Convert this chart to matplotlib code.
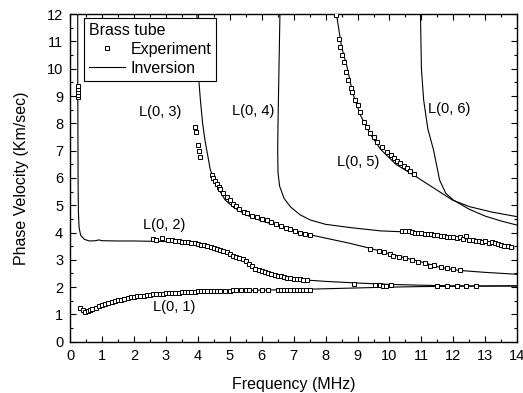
import numpy as np
import matplotlib.pyplot as plt
from matplotlib.ticker import MultipleLocator

plt.rcParams['font.family'] = ['Liberation Sans', 'DejaVu Sans']

# ---- experiment (open squares) ----
exp01_f = [0.31, 0.4, 0.47, 0.55, 0.63, 0.7, 0.8, 0.9, 1.0, 1.1, 1.2, 1.3, 1.4, 1.5, 1.6, 1.7,
           1.8, 1.9, 2.0, 2.1, 2.2, 2.3, 2.4, 2.5, 2.6, 2.7, 2.8, 2.9, 3.0, 3.1, 3.2, 3.3, 3.4,
           3.5, 3.6, 3.7, 3.8, 3.9, 4.0, 4.1, 4.2, 4.3, 4.4, 4.5, 4.6, 4.7, 4.85, 5.0, 5.1, 5.2,
           5.35, 5.5, 5.6, 5.8, 6.0, 6.2, 6.5, 6.6, 6.7, 6.8, 6.9, 7.0, 7.1, 7.2, 7.3, 7.4, 7.5,
           11.5, 11.8, 12.1, 12.4, 12.7]
exp01_v = [1.25, 1.15, 1.1, 1.12, 1.16, 1.2, 1.25, 1.3, 1.34, 1.38, 1.42, 1.45, 1.48, 1.51, 1.54, 1.57,
           1.59, 1.62, 1.64, 1.66, 1.68, 1.69, 1.71, 1.72, 1.73, 1.74, 1.75, 1.76, 1.77, 1.78, 1.79, 1.8, 1.8,
           1.81, 1.82, 1.82, 1.83, 1.83, 1.84, 1.84, 1.85, 1.85, 1.86, 1.86, 1.86, 1.87, 1.87, 1.87, 1.88, 1.88,
           1.88, 1.88, 1.88, 1.89, 1.89, 1.89, 1.9, 1.9, 1.9, 1.9, 1.9, 1.9, 1.91, 1.91, 1.91, 1.91, 1.9,
           2.03, 2.03, 2.03, 2.04, 2.04]

exp02_f = [0.24, 0.24, 0.24, 0.24, 0.24,
           2.6, 2.7, 2.87, 3.08, 3.2, 3.3, 3.4, 3.5, 3.6, 3.7, 3.8, 3.9, 4.0, 4.1, 4.2, 4.3, 4.4, 4.5,
           4.6, 4.7, 4.8, 4.9, 5.0, 5.1, 5.2, 5.3, 5.4, 5.5, 5.6, 5.7, 5.8, 5.9, 6.0, 6.1, 6.2, 6.3,
           6.4, 6.5, 6.6, 6.7, 6.8, 6.9, 7.0, 7.1, 7.2, 7.3, 7.42,
           8.88, 9.56, 9.7, 9.8, 9.9, 10.05]
exp02_v = [8.95, 9.05, 9.15, 9.25, 9.35,
           3.76, 3.74, 3.8, 3.72, 3.71, 3.7, 3.69, 3.67, 3.66, 3.64, 3.62, 3.61, 3.59, 3.56, 3.53, 3.5, 3.46, 3.44,
           3.41, 3.37, 3.32, 3.27, 3.21, 3.15, 3.1, 3.06, 3.03, 2.97, 2.84, 2.76, 2.68, 2.64, 2.6, 2.56, 2.52, 2.48,
           2.45, 2.42, 2.39, 2.37, 2.35, 2.33, 2.31, 2.3, 2.28, 2.27, 2.26,
           2.11, 2.08, 2.06, 2.05, 2.04, 2.07]

exp03_f = [3.92, 3.95, 4.0, 4.03, 4.06, 4.44, 4.48, 4.55, 4.6, 4.65, 4.7, 4.8, 4.9, 5.0, 5.1, 5.2,
           5.3, 5.43, 5.55, 5.7, 5.85, 6.0, 6.17, 6.3, 6.45, 6.6, 6.75, 6.9, 7.05, 7.2, 7.35, 7.52,
           9.4, 9.66, 9.83, 10.03, 10.1, 10.3, 10.5, 10.7, 10.9, 11.1, 11.28, 11.4, 11.6, 11.8, 12.0, 12.2]
exp03_v = [7.85, 7.7, 7.2, 6.98, 6.75, 6.1, 6.0, 5.9, 5.78, 5.68, 5.6, 5.44, 5.3, 5.18, 5.06, 4.97,
           4.88, 4.76, 4.7, 4.62, 4.56, 4.5, 4.46, 4.4, 4.33, 4.25, 4.18, 4.12, 4.06, 4.0, 3.95, 3.9,
           3.4, 3.32, 3.29, 3.22, 3.15, 3.1, 3.05, 2.99, 2.93, 2.88, 2.77, 2.8, 2.75, 2.7, 2.66, 2.62]

exp04_f = [10.4, 10.5, 10.6, 10.7, 10.8, 10.9, 11.0, 11.1, 11.2, 11.3, 11.4, 11.5, 11.6, 11.7, 11.8,
           11.9, 12.0, 12.1, 12.2, 12.3, 12.4, 12.5, 12.6, 12.7, 12.8, 12.9, 13.0, 13.1, 13.2, 13.3,
           13.4, 13.5, 13.6, 13.7, 13.8]
exp04_v = [4.07, 4.05, 4.06, 4.02, 4.0, 3.98, 3.97, 3.95, 3.93, 3.95, 3.92, 3.9, 3.88, 3.86, 3.84,
           3.83, 3.82, 3.8, 3.82, 3.78, 3.87, 3.74, 3.72, 3.7, 3.7, 3.66, 3.68, 3.6, 3.65, 3.62,
           3.58, 3.56, 3.52, 3.5, 3.46]

exp05_f = [8.34, 8.41, 8.46, 8.52, 8.57, 8.65, 8.7, 8.78, 8.82, 8.93, 9.0, 9.09, 9.19, 9.3, 9.4,
           9.51, 9.61, 9.77, 9.93, 10.05, 10.14, 10.25, 10.34, 10.45, 10.55, 10.65, 10.76]
exp05_v = [11.97, 11.1, 10.8, 10.5, 10.26, 9.89, 9.59, 9.28, 9.16, 8.85, 8.67, 8.42, 8.06, 7.88, 7.63,
           7.51, 7.33, 7.14, 6.96, 6.83, 6.72, 6.62, 6.53, 6.44, 6.35, 6.25, 6.14]

# ---- inversion (solid lines) ----
inv01_f = [0.3, 0.5, 0.7, 1.0, 1.5, 2.0, 2.5, 3.0, 4.0, 5.0, 6.0, 7.0, 8.0, 9.0, 10.0, 11.0, 12.0, 13.0, 14.0]
inv01_v = [1.15, 1.1, 1.18, 1.33, 1.51, 1.63, 1.71, 1.77, 1.83, 1.87, 1.89, 1.91, 1.94, 1.97, 2.0, 2.02, 2.03, 2.04, 2.05]

inv02_f = [0.24, 0.24, 0.25, 0.26, 0.28, 0.33, 0.45, 0.6, 0.8, 0.9, 1.0, 1.5, 2.0, 2.5, 3.0, 3.5, 4.0,
           4.5, 5.0, 5.5, 5.8, 6.1, 6.5, 7.0, 7.5, 8.0, 9.0, 10.0, 11.0, 12.0, 13.0, 14.0]
inv02_v = [12.0, 9.5, 6.0, 4.8, 4.2, 3.9, 3.75, 3.69, 3.7, 3.73, 3.7, 3.69, 3.69, 3.68, 3.67, 3.63, 3.56,
           3.43, 3.2, 2.95, 2.72, 2.56, 2.42, 2.32, 2.25, 2.21, 2.15, 2.1, 2.07, 2.05, 2.04, 2.04]

inv03_f = [3.97, 4.0, 4.03, 4.08, 4.15, 4.22, 4.39, 4.6, 4.85, 5.11, 5.5, 6.0, 6.68, 7.5, 8.78, 9.4,
           10.0, 11.0, 11.6, 12.2, 13.0, 14.0]
inv03_v = [12.0, 10.5, 9.6, 8.85, 8.0, 7.4, 6.3, 5.7, 5.2, 4.93, 4.65, 4.42, 4.2, 3.92, 3.6, 3.42,
           3.22, 2.92, 2.72, 2.61, 2.54, 2.47]

inv04_f = [6.57, 6.54, 6.51, 6.5, 6.51, 6.56, 6.7, 6.9, 7.2, 7.52, 8.0, 8.78, 9.72, 10.34, 11.0, 12.3, 13.2, 13.9]
inv04_v = [12.0, 10.0, 8.0, 7.0, 6.2, 5.7, 5.25, 4.94, 4.65, 4.46, 4.3, 4.18, 4.06, 4.03, 3.95, 3.79, 3.62, 3.43]

inv05_f = [8.34, 8.5, 8.67, 8.85, 9.09, 9.4, 9.72, 10.2, 10.76, 11.4, 11.97, 12.5, 13.2, 14.0]
inv05_v = [12.0, 10.8, 10.07, 9.1, 8.3, 7.6, 7.05, 6.5, 6.1, 5.62, 5.19, 4.95, 4.75, 4.58]

inv06_f = [10.97, 11.0, 11.07, 11.2, 11.38, 11.57, 11.76, 12.0, 12.5, 13.0, 13.5, 14.0]
inv06_v = [12.0, 10.0, 8.85, 7.8, 7.02, 5.92, 5.44, 5.19, 4.85, 4.6, 4.42, 4.27]

mode_labels = ['L(0, 1)', 'L(0, 2)', 'L(0, 3)', 'L(0, 4)', 'L(0, 5)', 'L(0, 6)']
label_f = [3.27, 2.95, 2.82, 5.72, 9.01, 11.86]
label_v = [1.28, 4.27, 8.41, 8.46, 6.59, 8.51]

fig = plt.figure(figsize=(5.23, 3.93), dpi=100)
ax = fig.add_axes([0.134, 0.1305, 0.855, 0.8335])

exp_f = [exp01_f, exp02_f, exp03_f, exp04_f, exp05_f]
exp_v = [exp01_v, exp02_v, exp03_v, exp04_v, exp05_v]
inv_f = [inv01_f, inv02_f, inv03_f, inv04_f, inv05_f, inv06_f]
inv_v = [inv01_v, inv02_v, inv03_v, inv04_v, inv05_v, inv06_v]

for i, (f, v) in enumerate(zip(inv_f, inv_v)):
    ax.plot(f, v, color='black', lw=0.8, label='Inversion' if i == 0 else None, zorder=2)

for i, (f, v) in enumerate(zip(exp_f, exp_v)):
    ax.plot(f, v, ls='none', marker='s', ms=2.7, mfc='white', mec='black', mew=0.7,
            label='Experiment' if i == 0 else None, zorder=3)

for txt, f, v in zip(mode_labels, label_f, label_v):
    ax.text(f, v, txt, ha='center', va='center', fontsize=10.5)

ax.set_xlim(0, 14)
ax.set_ylim(0, 12)
ax.xaxis.set_major_locator(MultipleLocator(1))
ax.xaxis.set_minor_locator(MultipleLocator(0.5))
ax.yaxis.set_major_locator(MultipleLocator(1))
ax.yaxis.set_minor_locator(MultipleLocator(0.5))
ax.tick_params(which='both', direction='in', top=True, right=True, labelsize=10.5, width=0.8)
ax.tick_params(which='major', length=4, pad=5)
ax.tick_params(which='minor', length=2.2)
for s in ax.spines.values():
    s.set_linewidth(1.0)

ax.set_xlabel('Frequency (MHz)', fontsize=11.5, labelpad=10)
ax.set_ylabel('Phase Velocity (Km/sec)', fontsize=11.5, labelpad=13)

handles, labels = ax.get_legend_handles_labels()
order = [labels.index('Experiment'), labels.index('Inversion')]
leg = ax.legend([handles[k] for k in order], [labels[k] for k in order],
                title='Brass tube', loc='upper left', bbox_to_anchor=(0.031, 0.988),
                borderaxespad=0, fontsize=11.5, title_fontsize=11.5, numpoints=1,
                handlelength=2.3, handletextpad=0.3, fancybox=False, framealpha=1,
                edgecolor='black', borderpad=0.3, labelspacing=0.25, alignment='left')
leg.get_frame().set_linewidth(0.8)

fig.savefig('out.png', dpi=100)
